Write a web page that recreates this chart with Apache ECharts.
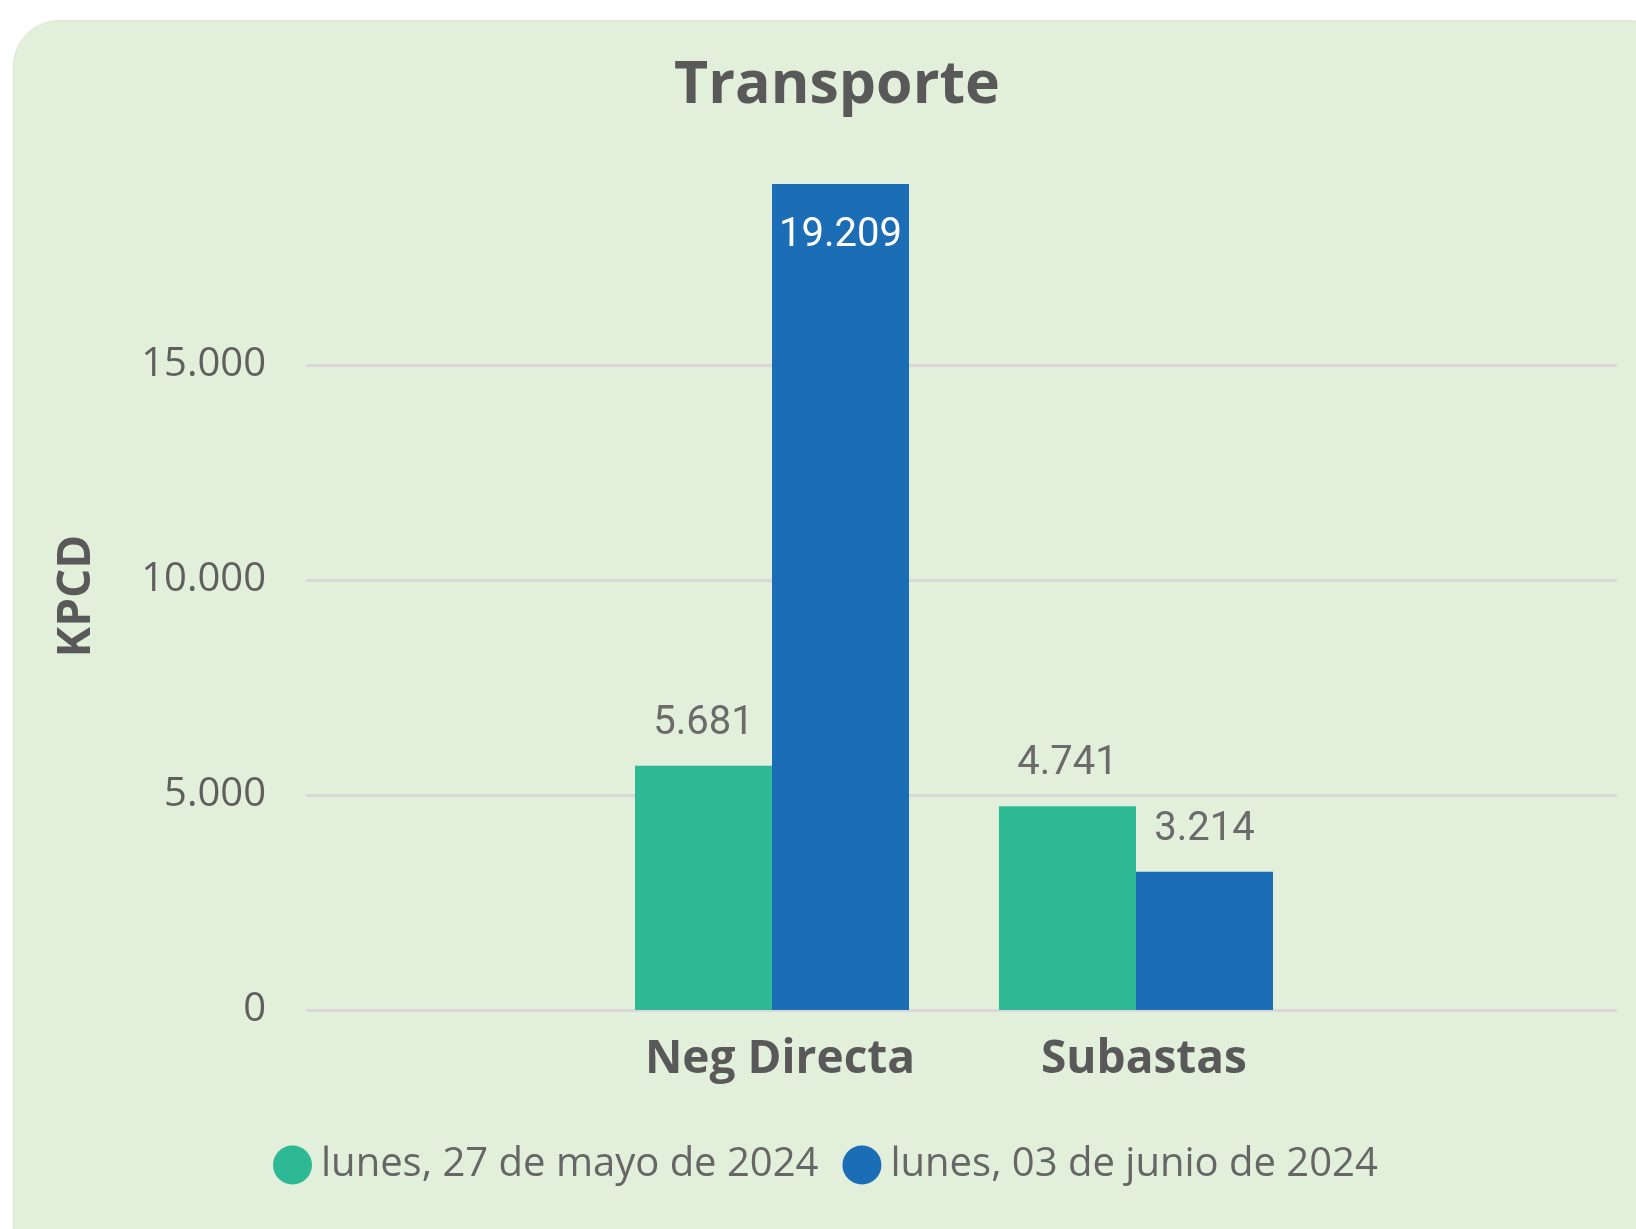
<!DOCTYPE html>
<html>
<head>
<meta charset="utf-8">
<title>Transporte</title>
<script src="https://cdn.jsdelivr.net/npm/echarts@6/dist/echarts.min.js"></script>
<style>
  html, body { margin: 0; padding: 0; background: #ffffff; }
  #card {
    position: absolute; left: 13px; top: 20px; width: 1660px; height: 1260px;
    background: #e2efda; border-radius: 46px; border: 1px solid #dbe7d3;
  }
  #chart { position: absolute; left: 0; top: 0; width: 1636px; height: 1229px; }
</style>
</head>
<body>
<div id="card"></div>
<div id="chart"></div>
<script>
// datos
var categorias = ['Neg Directa', 'Subastas'];
var serie1Nombre = 'lunes, 27 de mayo de 2024';
var serie2Nombre = 'lunes, 03 de junio de 2024';
var serie1 = [5681, 4741];
var serie2 = [19209, 3214];
var yMax = 20000;
var yIntervalo = 5000;

var verde = '#2cb994';
var azul = '#1b6db5';
var gris = '#595959';

function fmt(v) {
	return String(v).replace(/\B(?=(\d{3})+(?!\d))/g, '.');
}

// etiqueta dentro de la barra cuando no cabe arriba
function datosSerie(valores) {
	return valores.map(function (v) {
		if (v > 15000) {
			return { value: v, label: { position: 'insideTop', distance: 32, color: '#ffffff' } };
		}
		return v;
	});
}

var chart = echarts.init(document.getElementById('chart'));

var etiqueta = {
	show: true,
	position: 'top',
	distance: 22,
	fontFamily: 'Roboto',
	fontSize: 40,
	color: '#6b6b6b',
	formatter: function (p) { return fmt(p.value); }
};

chart.setOption({
	backgroundColor: 'transparent',
	title: {
		text: 'Transporte',
		left: 832,
		textAlign: 'center',
		top: 52,
		textStyle: {
			fontFamily: 'Open Sans',
			fontSize: 59,
			fontWeight: 'bold',
			color: gris
		}
	},
	legend: {
		data: [serie1Nombre, serie2Nombre],
		left: 268,
		top: 1140,
		icon: 'circle',
		itemWidth: 39,
		itemHeight: 39,
		itemGap: 24,
		textStyle: {
			fontFamily: 'Open Sans',
			fontSize: 40,
			color: '#666666',
			padding: [0, 0, 0, 4]
		}
	},
	grid: [
		{ left: 306, right: 19, top: 150, bottom: 219 },
		{ left: 590, right: 318, top: 150, bottom: 219 }
	],
	xAxis: [
		{
			gridIndex: 0,
			type: 'category',
			data: categorias,
			show: false
		},
		{
			gridIndex: 1,
			type: 'category',
			data: categorias,
			axisLine: { show: false },
			axisTick: { show: false },
			axisLabel: {
				margin: 27,
				padding: [0, 0, 0, 16],
				fontFamily: 'Open Sans',
				fontSize: 46,
				fontWeight: 'bold',
				color: gris
			}
		}
	],
	yAxis: [
		{
			gridIndex: 0,
			type: 'value',
			min: 0,
			max: yMax,
			interval: yIntervalo,
			name: 'KPCD',
			nameLocation: 'middle',
			nameGap: 206,
			nameTextStyle: {
				fontFamily: 'Open Sans',
				fontSize: 46,
				fontWeight: 'bold',
				color: gris,
				padding: [0, 32, 0, 0]
			},
			axisLine: { show: false },
			axisTick: { show: false },
			axisLabel: {
				margin: 40,
				showMaxLabel: false,
				fontFamily: 'Open Sans',
				fontSize: 40,
				color: '#5f5f5f',
				formatter: function (v) { return fmt(v); }
			},
			splitLine: {
				showMaxLine: false,
				lineStyle: { color: '#d8d8d8', width: 3 }
			}
		},
		{
			gridIndex: 1,
			type: 'value',
			min: 0,
			max: yMax,
			interval: yIntervalo,
			show: false,
			splitLine: { show: false }
		}
	],
	series: [
		{
			name: serie1Nombre,
			type: 'bar',
			xAxisIndex: 1,
			yAxisIndex: 1,
			data: datosSerie(serie1),
			barWidth: 137,
			barGap: '0%',
			itemStyle: { color: verde },
			label: etiqueta
		},
		{
			name: serie2Nombre,
			type: 'bar',
			xAxisIndex: 1,
			yAxisIndex: 1,
			data: datosSerie(serie2),
			barWidth: 137,
			barGap: '0%',
			itemStyle: { color: azul },
			label: etiqueta
		}
	]
});
</script>
</body>
</html>
